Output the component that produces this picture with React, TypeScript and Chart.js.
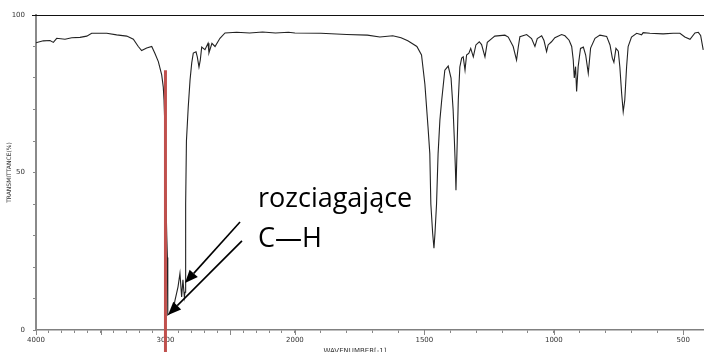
import { useEffect, useRef } from 'react';
import { Chart, registerables, LinearScale } from 'chart.js';

Chart.register(...registerables);

// Spectrum trace: wavenumber (cm-1) and transmittance (%)
const wavenumbers = [
  4000, 3944, 3892, 3866, 3840, 3776, 3724, 3660, 3608, 3570, 3454, 3377, 3299, 3248, 3210, 3184,
  3145, 3106, 3081, 3055, 3029, 3017, 3011, 3006, 3000, 2990, 2985, 2982, 2968, 2955, 2945, 2935,
  2926, 2912, 2903, 2888, 2875, 2865, 2854, 2849, 2844, 2838, 2824, 2810, 2797, 2785, 2764, 2754,
  2741, 2731, 2720, 2695, 2671, 2664, 2641, 2617, 2579, 2540, 2450, 2350, 2250, 2150, 2050, 2000,
  1900, 1800, 1720, 1672, 1622, 1590, 1564, 1529, 1511, 1498, 1486, 1479, 1475, 1468, 1463, 1459,
  1453, 1447, 1440, 1433, 1421, 1408, 1397, 1389, 1384, 1380, 1378, 1373, 1369, 1363, 1356, 1350,
  1343, 1337, 1328, 1321, 1311, 1301, 1288, 1279, 1266, 1257, 1240, 1228, 1189, 1176, 1157, 1144,
  1137, 1131, 1105, 1086, 1073, 1064, 1047, 1038, 1028, 1022, 1009, 996, 970, 957, 941, 931,
  925, 921, 916, 912, 906, 897, 886, 877, 867, 858, 841, 822, 796, 783, 774, 768,
  760, 751, 745, 738, 732, 726, 719, 713, 700, 680, 661, 655, 629, 578, 539, 513,
  494, 474, 455, 442, 433, 423,
];
const transmittance = [
  91.2, 91.8, 91.9, 91.3, 92.6, 92.3, 92.8, 92.9, 93.3, 94.2, 94.2, 93.7, 93.3, 92.3, 90.0, 88.7,
  89.5, 90.0, 87.8, 85.2, 81.0, 77.2, 73.0, 66.7, 48.0, 30.0, 23.0, 4.8, 5.2, 5.6, 5.8, 7.4,
  9.5, 12.0, 13.7, 18.0, 10.5, 15.9, 10.5, 12.0, 40.0, 60.0, 70.8, 79.4, 84.8, 87.9, 88.3, 86.7,
  83.5, 85.7, 89.8, 89.0, 91.0, 88.0, 91.0, 90.0, 92.6, 94.3, 94.5, 94.3, 94.6, 94.3, 94.5, 94.3,
  94.2, 93.8, 93.6, 93.0, 93.4, 92.8, 91.8, 90.0, 87.3, 78.0, 64.5, 56.0, 40.0, 30.7, 26.0, 30.7,
  40.0, 56.0, 66.7, 73.0, 82.5, 83.8, 80.0, 70.0, 60.0, 50.8, 44.4, 60.0, 73.0, 83.5, 86.3, 86.7,
  82.5, 87.3, 87.9, 89.4, 86.7, 90.5, 91.5, 90.6, 86.7, 91.3, 92.5, 93.3, 93.6, 93.0, 90.0, 85.7,
  90.0, 93.1, 93.8, 92.5, 90.0, 92.5, 93.4, 91.9, 88.4, 90.5, 91.5, 92.8, 93.8, 93.4, 92.0, 90.0,
  85.7, 80.0, 83.6, 75.7, 83.6, 89.4, 89.8, 87.3, 81.5, 89.5, 92.6, 93.6, 93.2, 90.5, 86.3, 85.0,
  89.4, 88.5, 83.5, 75.0, 69.3, 73.0, 83.5, 90.0, 93.0, 94.2, 93.7, 94.4, 94.2, 94.0, 94.2, 94.2,
  93.0, 92.3, 94.3, 94.5, 93.5, 88.9,
];

// Axis ticks
const xLabelled = [4000, 3000, 2000, 1500, 1000, 500];
const xLongTicks = [4000, 3500, 3000, 2500, 2000, 1500, 1000, 500];
const yLabelled = [0, 50, 100];

// Annotation: C-H stretching band marker and arrows [wavenumber, transmittance]
const markerWavenumber = 3000;
const markerTop = 82.5;
const arrowStarts = [[2424, 34.3], [2409, 28.3]];
const arrowEnds = [[2849, 14.9], [2980, 4.8]];
const noteLines = ['rozciagające', 'C\u2014H'];
const noteAnchor = [2285, 39];
const noteLineStep = 12.7;

// Wavenumber axis: 4000-2000 is drawn at half the density of 2000-420
const SPLIT = 2000;
const scalePos = (wn: number) => (wn >= SPLIT ? 4000 - wn : 4000 - SPLIT + 2 * (SPLIT - wn));
const wnFromPos = (p: number) => (p <= 4000 - SPLIT ? 4000 - p : SPLIT - (p - (4000 - SPLIT)) / 2);

class WavenumberScale extends LinearScale {
  static id = 'wavenumber';
  static defaults = { ...(LinearScale as any).defaults };
  buildTicks() {
    const ticks: { value: number }[] = [];
    for (let v = 500; v <= 4000; v += 100) ticks.push({ value: v });
    (this as any).start = this.min;
    (this as any).end = this.max;
    return ticks as any;
  }
  getPixelForValue(value: number) {
    const p0 = scalePos(this.max);
    const span = scalePos(this.min) - p0;
    return this.left + ((scalePos(value) - p0) / span) * this.width;
  }
  getValueForPixel(pixel: number) {
    const p0 = scalePos(this.max);
    const span = scalePos(this.min) - p0;
    return wnFromPos(p0 + ((pixel - this.left) / this.width) * span);
  }
}
Chart.register(WavenumberScale as any);

const notesPlugin = {
  id: 'spectrumNotes',
  afterDraw(chart: any) {
    const { ctx, chartArea, scales } = chart;
    const xs = scales.x;
    const ys = scales.y;
    ctx.save();

    // top frame line
    ctx.strokeStyle = '#111';
    ctx.lineWidth = 1;
    ctx.beginPath();
    ctx.moveTo(chartArea.left - 4, chartArea.top + 0.5);
    ctx.lineTo(chartArea.right, chartArea.top + 0.5);
    ctx.stroke();

    // longer ticks at the round wavenumbers
    ctx.strokeStyle = '#888';
    ctx.lineWidth = 1;
    for (const wn of xLongTicks) {
      const px = Math.round(xs.getPixelForValue(wn)) + 0.5;
      ctx.beginPath();
      ctx.moveTo(px, chartArea.bottom);
      ctx.lineTo(px, chartArea.bottom + 5);
      ctx.stroke();
    }

    // axis title
    ctx.fillStyle = '#333';
    ctx.font = '7px "DejaVu Sans"';
    ctx.textAlign = 'center';
    ctx.textBaseline = 'alphabetic';
    ctx.fillText('WAVENUMBER[-1]', (chartArea.left + chartArea.right) / 2 - 15, chart.height + 1);

    // red marker at 3000 cm-1
    const mx = xs.getPixelForValue(markerWavenumber);
    ctx.strokeStyle = '#c0504d';
    ctx.lineWidth = 3;
    ctx.beginPath();
    ctx.moveTo(mx, ys.getPixelForValue(markerTop));
    ctx.lineTo(mx, chart.height);
    ctx.stroke();

    // arrows
    ctx.strokeStyle = '#000';
    ctx.fillStyle = '#000';
    ctx.lineWidth = 1.6;
    arrowStarts.forEach((s, i) => {
      const e = arrowEnds[i];
      const x1 = xs.getPixelForValue(s[0]);
      const y1 = ys.getPixelForValue(s[1]);
      const x2 = xs.getPixelForValue(e[0]);
      const y2 = ys.getPixelForValue(e[1]);
      const ang = Math.atan2(y2 - y1, x2 - x1);
      const hl = 13;
      const hw = 5.5;
      const bx = x2 - hl * Math.cos(ang);
      const by = y2 - hl * Math.sin(ang);
      ctx.beginPath();
      ctx.moveTo(x1, y1);
      ctx.lineTo(bx, by);
      ctx.stroke();
      ctx.beginPath();
      ctx.moveTo(x2, y2);
      ctx.lineTo(bx + hw * Math.sin(ang), by - hw * Math.cos(ang));
      ctx.lineTo(bx - hw * Math.sin(ang), by + hw * Math.cos(ang));
      ctx.closePath();
      ctx.fill();
    });

    // note text
    ctx.fillStyle = '#000';
    ctx.font = '27px "Open Sans"';
    ctx.textAlign = 'left';
    ctx.textBaseline = 'alphabetic';
    noteLines.forEach((line, i) => {
      ctx.fillText(
        line,
        xs.getPixelForValue(noteAnchor[0]),
        ys.getPixelForValue(noteAnchor[1] - i * noteLineStep)
      );
    });

    ctx.restore();
  },
};

export default function App() {
  const canvasRef = useRef<HTMLCanvasElement | null>(null);

  useEffect(() => {
    const canvas = canvasRef.current;
    if (!canvas) return;
    const points = wavenumbers.map((wn, i) => ({ x: wn, y: transmittance[i] }));
    const tickFont = { family: '"DejaVu Sans"', size: 7 };
    const chart = new Chart(canvas, {
      type: 'line',
      data: {
        datasets: [
          {
            data: points,
            borderColor: '#222',
            borderWidth: 1.1,
            pointRadius: 0,
            tension: 0,
            fill: false,
          },
        ],
      },
      options: {
        responsive: false,
        animation: false,
        events: [],
        layout: { padding: { top: 15, left: 0, right: 0, bottom: 0 } },
        plugins: { legend: { display: false }, tooltip: { enabled: false } },
        scales: {
          x: {
            type: 'wavenumber' as any,
            min: 420,
            max: 4000,
            afterFit: (s: any) => {
              s.height = 22;
            },
            grid: { drawOnChartArea: false, drawTicks: true, tickLength: 3, color: '#888' },
            border: { display: true, color: '#808080', width: 1.5 },
            ticks: {
              autoSkip: false,
              maxRotation: 0,
              padding: 3,
              color: '#333',
              font: tickFont,
              callback: (v: any) => (xLabelled.includes(Number(v)) ? String(v) : ''),
            },
          },
          y: {
            type: 'linear',
            min: 0,
            max: 100,
            afterFit: (s: any) => {
              s.width = 36;
            },
            grid: { drawOnChartArea: false, drawTicks: true, tickLength: 3, color: '#888' },
            border: { display: true, color: '#8a8a8a', width: 2 },
            title: {
              display: true,
              text: 'TRANSMITTANCE(%)',
              color: '#333',
              font: { family: '"DejaVu Sans"', size: 6 },
              padding: { top: 6, bottom: 0 },
            },
            ticks: {
              stepSize: 10,
              autoSkip: false,
              padding: 8,
              color: '#333',
              font: tickFont,
              callback: (v: any) => (yLabelled.includes(Number(v)) ? String(v) : ''),
            },
          },
        },
      },
      plugins: [notesPlugin],
    });
    return () => chart.destroy();
  }, []);

  return (
    <div style={{ position: 'fixed', left: 0, top: 0, width: 704, height: 352, background: '#fff' }}>
      <canvas ref={canvasRef} width={704} height={352} style={{ display: 'block' }} />
    </div>
  );
}
